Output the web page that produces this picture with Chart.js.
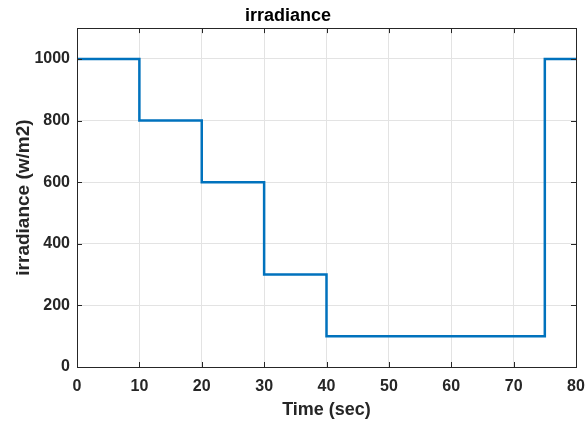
<!DOCTYPE html>
<html>
<head>
<meta charset="utf-8">
<script src="https://cdn.jsdelivr.net/npm/chart.js@4"></script>
<style>
    html, body { margin: 0; padding: 0; background: #ffffff; }
    #wrap { width: 586px; height: 421px; }
</style>
</head>
<body>
<div id="wrap"><canvas id="irrChart" width="586" height="421"></canvas></div>
<script>
// step changes: value holds from this time until the next one
const times = [0, 10, 20, 30, 40, 75, 80];
const irradiance = [1000, 800, 600, 300, 100, 1000, 1000];
const xTicks = [0, 10, 20, 30, 40, 50, 60, 70, 80];
const yTicks = [0, 200, 400, 600, 800, 1000];

const axisColor = '#262626';
const gridColor = '#e3e3e3';
const fontFamily = '"Liberation Sans", Arial, sans-serif';

// MATLAB style box with inward ticks on all four sides
const boxPlugin = {
    id: 'box',
    afterDraw(chart) {
        const ctx = chart.ctx;
        const a = chart.chartArea;
        const x = chart.scales.x;
        const y = chart.scales.y;
        ctx.save();
        ctx.strokeStyle = axisColor;
        ctx.lineWidth = 1;
        ctx.beginPath();
        xTicks.forEach(t => {
            const px = Math.round(x.getPixelForValue(t)) + 0.5;
            ctx.moveTo(px, a.bottom);
            ctx.lineTo(px, a.bottom - 5);
            ctx.moveTo(px, a.top);
            ctx.lineTo(px, a.top + 5);
        });
        yTicks.forEach(t => {
            const py = Math.round(y.getPixelForValue(t)) + 0.5;
            ctx.moveTo(a.left, py);
            ctx.lineTo(a.left + 5, py);
            ctx.moveTo(a.right, py);
            ctx.lineTo(a.right - 5, py);
        });
        ctx.stroke();
        ctx.strokeRect(Math.round(a.left) + 0.5, Math.round(a.top) + 0.5,
            Math.round(a.right - a.left), Math.round(a.bottom - a.top));
        ctx.restore();
    }
};

const ctx = document.getElementById('irrChart');

new Chart(ctx, {
    type: 'line',
    data: {
        datasets: [{
            data: times.map((t, i) => ({ x: t, y: irradiance[i] })),
            borderColor: '#0072BD',
            borderWidth: 2.5,
            stepped: 'before',
            pointRadius: 0,
            fill: false
        }]
    },
    options: {
        responsive: false,
        animation: false,
        layout: { padding: { left: 0, right: 10, top: 0, bottom: 0 } },
        plugins: {
            legend: { display: false },
            tooltip: { enabled: false },
            title: {
                display: true,
                text: 'irradiance',
                color: '#000000',
                font: { family: fontFamily, size: 18, weight: 'bold' },
                padding: { top: 5, bottom: 1.5 }
            }
        },
        scales: {
            x: {
                type: 'linear',
                min: 0,
                max: 80,
                afterBuildTicks: s => { s.ticks = xTicks.map(v => ({ value: v })); },
                afterFit: s => {
                    s.height = 54;
                    s.paddingLeft = 0;
                    s.paddingRight = 0;
                },
                grid: { color: gridColor, drawTicks: false, drawOnChartArea: true },
                border: { display: false },
                ticks: {
                    color: axisColor,
                    padding: 10,
                    maxRotation: 0,
                    font: { family: fontFamily, size: 16, weight: 'bold' },
                    callback: v => String(v)
                },
                title: {
                    display: true,
                    text: 'Time (sec)',
                    color: axisColor,
                    font: { family: fontFamily, size: 18, weight: 'bold' },
                    padding: { top: 0, bottom: 0 }
                }
            },
            y: {
                min: 0,
                max: 1100,
                afterBuildTicks: s => { s.ticks = yTicks.map(v => ({ value: v })); },
                afterFit: s => {
                    s.width = 77;
                    s.paddingTop = 0;
                    s.paddingBottom = 0;
                },
                grid: { color: gridColor, drawTicks: false },
                border: { display: false },
                ticks: {
                    color: axisColor,
                    padding: 7,
                    font: { family: fontFamily, size: 16, weight: 'bold' },
                    callback: v => String(v)
                },
                title: {
                    display: true,
                    text: 'irradiance (w/m2)',
                    color: axisColor,
                    font: { family: fontFamily, size: 19, weight: 'bold' },
                    padding: { top: 12, bottom: 0 }
                }
            }
        }
    },
    plugins: [boxPlugin]
});
</script>
</body>
</html>
